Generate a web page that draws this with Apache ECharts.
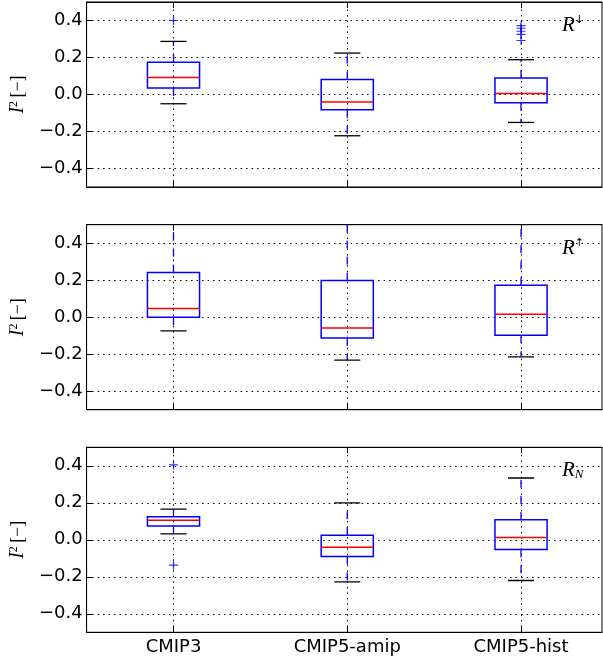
<!DOCTYPE html>
<html>
<head>
<meta charset="utf-8">
<script src="https://cdn.jsdelivr.net/npm/echarts@6/dist/echarts.min.js"></script>
<style>
  html, body { margin: 0; padding: 0; background: #fff; }
  #chart { width: 603px; height: 661px; }
</style>
</head>
<body>
<div id="chart"></div>
<script>
const categories = ['CMIP3', 'CMIP5-amip', 'CMIP5-hist']
const yTicks = [-0.4, -0.2, 0, 0.2, 0.4]

// per category: [lower whisker, q1, median, q3, upper whisker]
const rDownStats = [
    [-0.05, 0.035, 0.092, 0.175, 0.287],
    [-0.223, -0.083, -0.041, 0.081, 0.224],
    [-0.151, -0.045, 0.005, 0.089, 0.188]
]
const rDownOutliers = [[0.4], [], [0.372, 0.358, 0.342, 0.325, 0.292]]

const rUpStats = [
    [-0.074, 0.0, 0.047, 0.241, 0.62],
    [-0.232, -0.112, -0.059, 0.198, 0.6],
    [-0.214, -0.097, 0.016, 0.173, 0.58]
]
const rUpOutliers = [[], [], []]

const rNetStats = [
    [0.032, 0.074, 0.106, 0.124, 0.166],
    [-0.227, -0.09, -0.04, 0.025, 0.2],
    [-0.22, -0.052, 0.013, 0.108, 0.334]
]
const rNetOutliers = [[0.405, -0.137], [], []]

const panels = [
    { stats: rDownStats, outliers: rDownOutliers, label: '{r|R}{sup|↓}', top: 2 },
    { stats: rUpStats, outliers: rUpOutliers, label: '{r|R}{sup|↑}', top: 224.7 },
    { stats: rNetStats, outliers: rNetOutliers, label: '{r|R}{sub|N}', top: 447.3 }
]

const BOX_WIDTH = 0.3
const BLUE = '#0000ff'
const gridDash = [1.5, 4]
const fmtTick = v => v.toFixed(1).replace('-', '\u2212')

const renderBox = (params, api) => {
    const x = api.value(0)
    const ys = [1, 2, 3, 4, 5].map(d => api.coord([x, api.value(d)])[1])
    const [lo, q1, med, q3, hi] = ys
    const cx = api.coord([x, 0])[0]
    const half = api.size([BOX_WIDTH, 0])[0] / 2
    const cap = half / 2
    const whisker = { stroke: BLUE, lineWidth: 1.3, lineDash: [8, 8] }
    const capStyle = { stroke: '#000', lineWidth: 1.3 }
    return {
        type: 'group',
        children: [
            { type: 'line', shape: { x1: cx, y1: q3, x2: cx, y2: hi }, style: whisker },
            { type: 'line', shape: { x1: cx, y1: q1, x2: cx, y2: lo }, style: whisker },
            { type: 'line', shape: { x1: cx - cap, y1: hi, x2: cx + cap, y2: hi }, style: capStyle },
            { type: 'line', shape: { x1: cx - cap, y1: lo, x2: cx + cap, y2: lo }, style: capStyle },
            { type: 'rect', shape: { x: cx - half, y: q3, width: half * 2, height: q1 - q3 },
              style: { fill: 'none', stroke: BLUE, lineWidth: 1.5 } },
            { type: 'line', shape: { x1: cx - half, y1: med, x2: cx + half, y2: med },
              style: { stroke: '#ff0000', lineWidth: 1.5 } }
        ]
    }
}

const grids = []
const xAxes = []
const yAxes = []
const series = []
const titles = []

const tickStyle = { show: true, inside: true, length: 6, lineStyle: { color: '#000' } }

panels.forEach((p, i) => {
    const last = i === panels.length - 1
    grids.push({
        left: 85, width: 517, top: p.top, height: 185,
        show: true, borderColor: '#000', borderWidth: 1
    })
    xAxes.push({
        type: 'value', gridIndex: i, min: 0.5, max: 3.466,
        axisLine: { show: true, onZero: false, lineStyle: { color: '#000' } },
        axisTick: { ...tickStyle, customValues: [1, 2, 3] },
        axisLabel: {
            show: last, customValues: [1, 2, 3], margin: 6,
            formatter: v => categories[Math.round(v) - 1] || '',
            color: '#000', fontSize: 18, fontFamily: 'DejaVu Sans'
        },
        splitLine: { show: false }
    })
    // top ticks only
    xAxes.push({
        type: 'value', gridIndex: i, position: 'top', min: 0.5, max: 3.466,
        axisLine: { show: true, onZero: false, lineStyle: { color: '#000' } },
        axisTick: { ...tickStyle, customValues: [1, 2, 3] },
        axisLabel: { show: false },
        splitLine: { show: false }
    })
    yAxes.push({
        type: 'value', gridIndex: i, min: -0.5, max: 0.5,
        name: '{i|I}{s|2} {b|[\u2212]}',
        nameLocation: 'middle', nameGap: 58,
        nameTextStyle: {
            color: '#000',
            rich: {
                i: { fontFamily: 'Liberation Serif', fontStyle: 'italic', fontSize: 20, color: '#000' },
                s: { fontFamily: 'Liberation Serif', fontSize: 12, color: '#000', verticalAlign: 'top', lineHeight: 20 },
                b: { fontFamily: 'Liberation Serif', fontSize: 18, color: '#000' }
            }
        },
        axisLine: { show: true, onZero: false, lineStyle: { color: '#000' } },
        axisTick: { ...tickStyle, customValues: yTicks },
        axisLabel: {
            customValues: yTicks, formatter: fmtTick, margin: 4,
            color: '#000', fontSize: 18, fontFamily: 'DejaVu Sans'
        },
        splitLine: { show: false }
    })

    // grid lines
    series.push({
        type: 'line', xAxisIndex: 2 * i, yAxisIndex: i, data: [],
        markLine: {
            z: 1, silent: true, symbol: 'none', animation: false,
            label: { show: false },
            lineStyle: { color: '#000', width: 1, type: gridDash },
            data: [
                ...categories.map((c, k) => ({ xAxis: k + 1 })),
                ...yTicks.map(v => ({ yAxis: v }))
            ]
        }
    })

    series.push({
        type: 'custom', xAxisIndex: 2 * i, yAxisIndex: i, clip: true, z: 3,
        renderItem: renderBox,
        encode: { x: 0, y: [1, 2, 3, 4, 5] },
        data: p.stats.map((s, k) => [k + 1, ...s])
    })

    series.push({
        type: 'scatter', xAxisIndex: 2 * i, yAxisIndex: i, z: 4,
        symbol: 'path://M5,0L5,10M0,5L10,5', symbolSize: 9,
        itemStyle: { color: 'none', borderColor: BLUE, borderWidth: 1.2 },
        data: p.outliers.flatMap((vals, k) => vals.map(v => [k + 1, v]))
    })

    titles.push({
        text: p.label, left: 562, top: p.top + 13, padding: 0,
        textStyle: {
            fontWeight: 'normal',
            rich: {
                r: { fontFamily: 'Liberation Serif', fontStyle: 'italic', fontWeight: 'normal', fontSize: 21, color: '#000' },
                sup: { fontFamily: 'DejaVu Sans', fontWeight: 'normal', fontSize: 11, color: '#000', verticalAlign: 'top', lineHeight: 20 },
                sub: { fontFamily: 'Liberation Serif', fontStyle: 'italic', fontWeight: 'normal', fontSize: 13, color: '#000', verticalAlign: 'bottom', lineHeight: 10 }
            }
        }
    })
})

const chart = echarts.init(document.getElementById('chart'))
chart.setOption({
    animation: false,
    title: titles,
    grid: grids,
    xAxis: xAxes,
    yAxis: yAxes,
    series: series
})
</script>
</body>
</html>
